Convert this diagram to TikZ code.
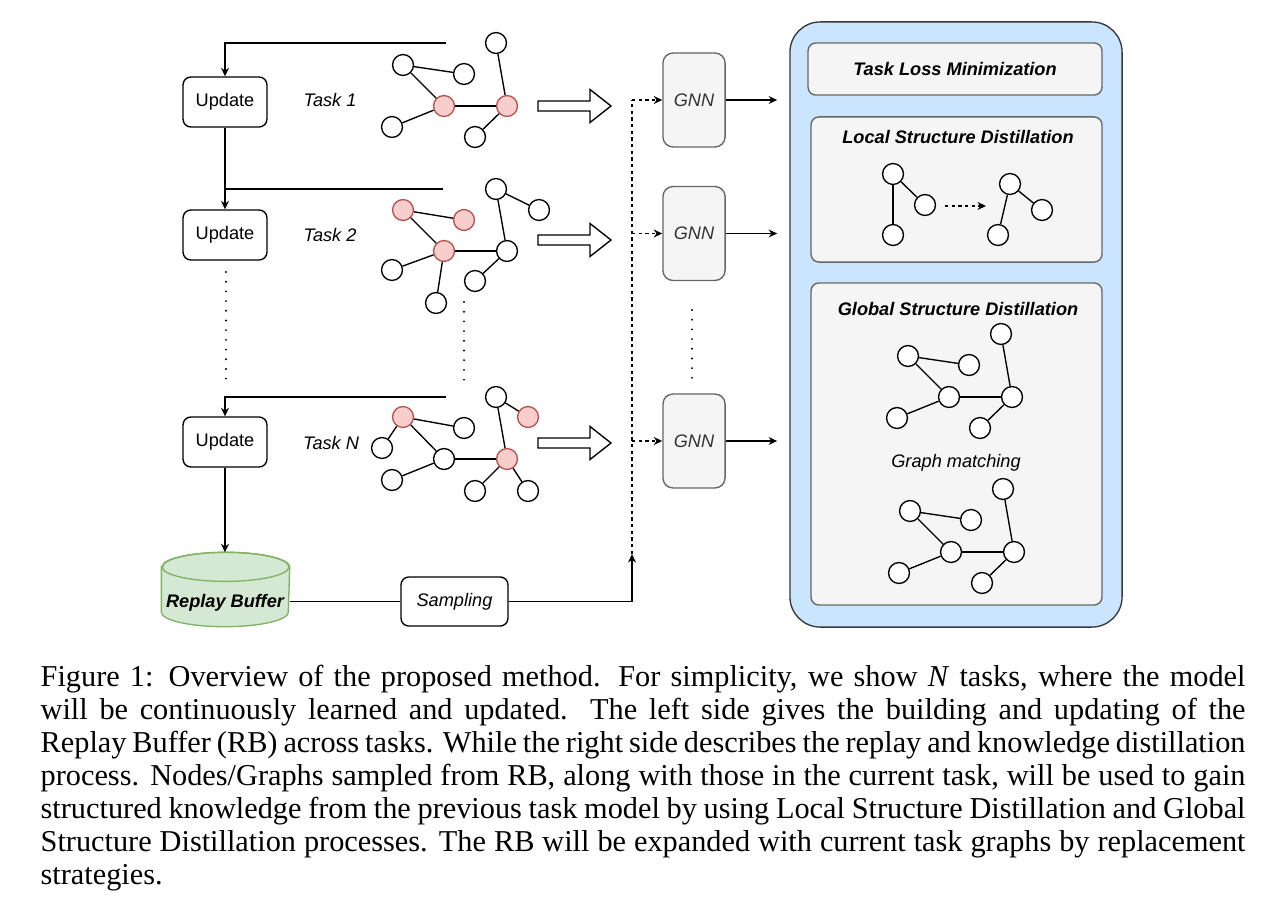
\documentclass[tikz,border=0pt]{standalone}
\usepackage{fontspec}
\setmainfont{Liberation Serif}
\newfontfamily\diafont{Liberation Sans}
\usetikzlibrary{arrows.meta}

\definecolor{hotfill}{HTML}{F8CECC}
\definecolor{hotdraw}{HTML}{B85450}
\definecolor{boxfill}{HTML}{F5F5F5}
\definecolor{boxdraw}{HTML}{666666}
\definecolor{bluefill}{HTML}{CCE5FF}
\definecolor{bluedraw}{HTML}{36393D}
\definecolor{rbfill}{HTML}{D5E8D4}
\definecolor{rbdraw}{HTML}{82B366}

\newcommand\dfont{\diafont\fontsize{6}{7}\selectfont}

\tikzset{
  vert/.style={circle, draw, fill=white, minimum size=6.9pt, inner sep=0pt},
  hot/.style={vert, fill=hotfill, draw=hotdraw},
  upbox/.style={draw, fill=white, rounded corners=2.6pt, minimum width=27.7pt, minimum height=16.5pt, inner sep=0pt},
  gnnbox/.style={draw=boxdraw, fill=boxfill, rounded corners=3.3pt, minimum width=20.5pt, minimum height=31pt, inner sep=0pt, text=black!80, font=\dfont\itshape},
  grey/.style={draw=boxdraw, fill=boxfill, rounded corners=2.6pt, minimum width=96pt, inner sep=0pt},
  title/.style={font=\dfont\bfseries\itshape, inner sep=0pt},
  arr/.style={-{Stealth[length=2.8pt,width=2.6pt]}},
  dsh/.style={dash pattern=on 1.1pt off 1.1pt},
  dots/.style={line width=0.7pt, line cap=round, dash pattern=on 0pt off 3.2pt},
  rim/.style={x radius=20.95pt, y radius=4.8pt},
  caption/.style={text width=397.6pt, align=justify, inner sep=0pt, font=\rmfamily\fontsize{10}{10.9}\selectfont},
  bigarrow/.pic={\draw (0,-5) -- (52,-5) -- (52,-16.5) -- (73,0) -- (52,16.5) -- (52,5) -- (0,5) -- cycle;}
}

\begin{document}
\begin{tikzpicture}[x=0.33pt, y=-0.33pt, line width=0.45pt, font=\dfont]
  \useasboundingbox (0,0) rectangle (1266,901);

  % Update column
  \node[upbox] (up1) at (225,102) {Update};
  \node[upbox] (up2) at (225,235) {Update};
  \node[upbox] (upN) at (225,442) {Update};
  % replay buffer drum
  \node[minimum width=41.9pt, minimum height=24.1pt, inner sep=0pt] (rb) at (225.5,589.5) {};
  \path[draw=rbdraw, fill=rbfill] ([yshift=-4.8pt]rb.north west) -- ([yshift=4.8pt]rb.south west)
    arc[start angle=180, end angle=360, rim] -- ([yshift=-4.8pt]rb.north east)
    arc[start angle=0, end angle=180, rim] -- cycle;
  \draw[rbdraw] ([yshift=-4.8pt]rb.north) ellipse[rim];
  \node[title] (rbtext) at (225,603) {Replay Buffer};
  \node[upbox, minimum width=35.3pt, minimum height=16.2pt, font=\dfont\itshape] (smp) at (454.5,601.5) {Sampling};

  \node[font=\dfont\itshape] (task1) at (330,100) {Task 1};
  \node[font=\dfont\itshape] (task2) at (330,235) {Task 2};
  \node[font=\dfont\itshape] (taskN) at (331,443) {Task N};

  % Task 1 graph
  \node[vert] (t1a) at (496,43) {};
  \node[vert] (t1b) at (403,65) {};
  \node[vert] (t1c) at (464,74) {};
  \node[hot]  (t1d) at (444,106) {};
  \node[hot]  (t1e) at (507,106) {};
  \node[vert] (t1f) at (392,127) {};
  \node[vert] (t1g) at (475,137) {};
  \foreach \u/\v in {b/c,b/d,a/e,d/e,f/d,g/e} \draw (t1\u) -- (t1\v);

  % Task 2 graph
  \node[vert] (t2a) at (496,189) {};
  \node[vert] (t2h) at (539,210) {};
  \node[hot]  (t2b) at (403,210) {};
  \node[hot]  (t2c) at (464,220) {};
  \node[hot]  (t2d) at (444,251) {};
  \node[vert] (t2e) at (507,251) {};
  \node[vert] (t2f) at (392,270) {};
  \node[vert] (t2g) at (475,281) {};
  \node[vert] (t2i) at (436,303) {};
  \foreach \u/\v in {b/c,b/d,a/e,a/h,d/e,f/d,g/e,d/i} \draw (t2\u) -- (t2\v);

  % Task N graph
  \node[vert] (tNa) at (496,397) {};
  \node[hot]  (tNh) at (528,417) {};
  \node[hot]  (tNb) at (403,417) {};
  \node[vert] (tNc) at (464,428) {};
  \node[vert] (tNj) at (382,448) {};
  \node[vert] (tNd) at (444,459) {};
  \node[hot]  (tNe) at (507,459) {};
  \node[vert] (tNf) at (392,480) {};
  \node[vert] (tNg) at (475,491) {};
  \node[vert] (tNk) at (528,491) {};
  \foreach \u/\v in {b/c,b/j,b/d,a/e,a/h,d/e,f/d,g/e,e/k} \draw (tN\u) -- (tN\v);

  % task inputs
  \coordinate (in1) at (446,43);
  \coordinate (in2) at (443,189);
  \coordinate (inN) at (446,397);
  \draw[arr] (in1) -| (up1.north);
  \draw (in2) -- (in2 -| up1);
  \draw[arr] (up1) -- (up2);
  \draw[arr] (inN) -| (upN.north);
  \draw[arr] (upN) -- (upN |- rb.north);
  \draw (rb.east |- smp.west) -- (smp.west);

  \coordinate (ldA) at (226,272);
  \coordinate (ldB) at (226,380);
  \coordinate (mdA) at (464,302);
  \coordinate (mdB) at (464,380);
  \draw[dots] (ldA) -- (ldB);
  \draw[dots] (mdA) -- (mdB);

  \pic at (538,106) {bigarrow};
  \pic at (538,240) {bigarrow};
  \pic at (538,443) {bigarrow};

  % GNN column
  \node[gnnbox] (gnn1) at (694,100) {GNN};
  \node[gnnbox] (gnn2) at (694,233.5) {GNN};
  \node[gnnbox] (gnnN) at (694,441) {GNN};
  \coordinate (gdA) at (692,310);
  \coordinate (gdB) at (692,379);
  \draw[dots] (gdA) -- (gdB);

  \coordinate (stop) at (632,554);
  \draw[arr] (smp.east) -| (stop);
  \draw[dsh] (stop) -- (stop |- gnn1);
  \foreach \g in {gnn1,gnn2,gnnN} \draw[dsh,arr] (stop |- \g) -- (\g.west);

  % distillation panel
  \node[draw=bluedraw, fill=bluefill, rounded corners=10pt, minimum width=109.6pt, minimum height=199.7pt] (panel) at (956,324.5) {};
  \foreach \g in {gnn1,gnn2,gnnN} \draw[arr] (\g.east) -- ([xshift=-4pt]\g.east -| panel.west);

  \node[grey, minimum width=97pt, minimum height=17.2pt, font=\dfont\bfseries\itshape] (loss) at (955,69) {Task Loss Minimization};
  \node[grey, minimum height=47.9pt] (local) at (956.5,189.5) {};
  \node[grey, minimum height=106.3pt] (global) at (956.5,444) {};
  \node[title] (localT) at (958,137) {Local Structure Distillation};
  \node[title] (globalT) at (958,309) {Global Structure Distillation};
  \node[font=\dfont\itshape] (match) at (956,463) {Graph matching};

  % local structure
  \node[vert] (lt) at (893,174) {};
  \node[vert] (lr) at (925,205) {};
  \node[vert] (lb) at (893,235) {};
  \node[vert] (rt) at (1010,184) {};
  \node[vert] (rr) at (1042,210) {};
  \node[vert] (rbt) at (998,235) {};
  \draw (lt) -- (lr);
  \draw (lt) -- (lb);
  \draw (rt) -- (rr);
  \draw (rt) -- (rbt);
  \coordinate (lsA) at (945,206);
  \coordinate (lsB) at (986,206);
  \draw[dsh,arr] (lsA) -- (lsB);

  % global structure, two copies of the task 1 graph
  \foreach \p/\dx/\dy in {g/505/291, h/507/446} {
    \begin{scope}[shift={(\dx,\dy)}]
      \node[vert] (\p a) at (496,43) {};
      \node[vert] (\p b) at (403,65) {};
      \node[vert] (\p c) at (464,74) {};
      \node[vert] (\p d) at (444,106) {};
      \node[vert] (\p e) at (507,106) {};
      \node[vert] (\p f) at (392,127) {};
      \node[vert] (\p g) at (475,137) {};
    \end{scope}
    \foreach \u/\v in {b/c,b/d,a/e,d/e,f/d,g/e} \draw (\p\u) -- (\p\v);
  }

  % caption
  \node[caption, anchor=north west] (cap) at (40,664) {\hyphenpenalty=10000
    Figure 1: Overview of the proposed method. For simplicity, we show \textit{N} tasks, where the model\linebreak
    will be continuously learned and updated. The left side gives the building and updating of the\linebreak
    Replay Buffer (RB) across tasks. While the right side describes the replay and knowledge distillation\linebreak
    process. Nodes/Graphs sampled from RB, along with those in the current task, will be used to gain\linebreak
    structured knowledge from the previous task model by using Local Structure Distillation and Global\linebreak
    Structure Distillation processes. The RB will be expanded with current task graphs by replacement\linebreak
    strategies.};
\end{tikzpicture}
\end{document}
